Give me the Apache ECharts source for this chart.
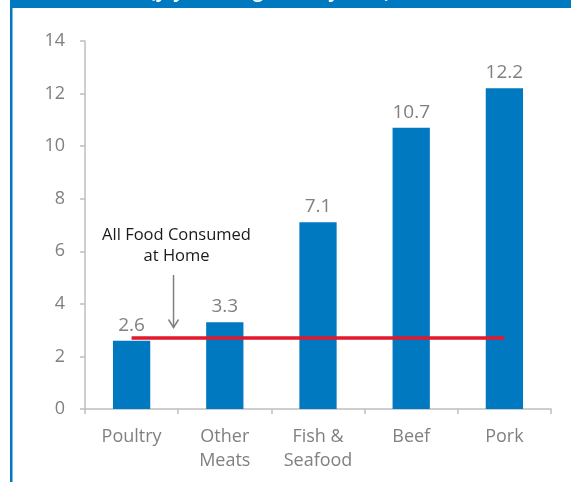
<!DOCTYPE html>
<html>
<head>
<meta charset="utf-8">
<script src="https://cdn.jsdelivr.net/npm/echarts@6/dist/echarts.min.js"></script>
<style>
  html, body { margin: 0; padding: 0; background: #fff; }
  #main { width: 571px; height: 482px; }
</style>
</head>
<body>
<div id="main"></div>
<script>
// 数据
const categories = ['Poultry', 'Other\nMeats', 'Fish &\nSeafood', 'Beef', 'Pork'];
const priceChange = [2.6, 3.3, 7.1, 10.7, 12.2];
const allFoodAtHome = [2.7, 2.7, 2.7, 2.7, 2.7];
const yTicks = [0, 14, 2]; // min, max, interval

const BLUE = '#0079C1';
const GREY = '#808080';
const FONT = '"Open Sans", sans-serif';

const chart = echarts.init(document.getElementById('main'), null, { renderer: 'canvas' });

chart.setOption({
  animation: false,
  backgroundColor: '#fff',
  grid: { left: 85, right: 20, top: 41, bottom: 73 },
  xAxis: {
    type: 'category',
    data: categories,
    axisLine: { lineStyle: { color: '#bfbfbf', width: 1.5 } },
    axisTick: { show: true, length: 5, alignWithLabel: false, lineStyle: { color: '#bfbfbf', width: 1.5 } },
    axisLabel: { color: GREY, fontFamily: FONT, fontSize: 18, lineHeight: 24, margin: 16 }
  },
  yAxis: {
    type: 'value',
    min: yTicks[0],
    max: yTicks[1],
    interval: yTicks[2],
    splitLine: { show: false },
    axisLine: { show: true, lineStyle: { color: '#bfbfbf', width: 1.5 } },
    axisTick: { show: true, length: 5, lineStyle: { color: '#bfbfbf', width: 1.5 } },
    axisLabel: { color: GREY, fontFamily: FONT, fontSize: 18, margin: 20 }
  },
  series: [
    {
      type: 'bar',
      data: priceChange,
      barWidth: '40%',
      itemStyle: { color: BLUE },
      label: {
        show: true,
        position: 'top',
        distance: 6,
        color: GREY,
        fontFamily: FONT,
        fontSize: 19
      }
    },
    {
      type: 'line',
      data: allFoodAtHome,
      symbol: 'none',
      z: 5,
      lineStyle: { color: '#E2192C', width: 3.5 }
    }
  ]
});

// 注释和边框
const p0 = chart.convertToPixel({ xAxisIndex: 0, yAxisIndex: 0 }, [0, 5.1]);
const p1 = chart.convertToPixel({ xAxisIndex: 0, yAxisIndex: 0 }, [1, 3.1]);
const arrowX = p0[0] + (p1[0] - p0[0]) * 0.45;
const textY = chart.convertToPixel({ yAxisIndex: 0 }, 6.2);

chart.setOption({
  graphic: [
    { type: 'rect', shape: { x: 10, y: 0, width: 561, height: 8 }, style: { fill: BLUE }, z: 10 },
    { type: 'rect', shape: { x: 10, y: 0, width: 2.5, height: 482 }, style: { fill: BLUE }, z: 10 },
    {
      type: 'text', x: 270, y: 2, z: 11,
      style: {
        text: '(y/y % change in May 2022)',
        fill: '#fff', font: 'bold 18px ' + FONT,
        align: 'center', verticalAlign: 'bottom'
      }
    },
    {
      type: 'text', x: arrowX + 3, y: textY, z: 11,
      style: {
        text: 'All Food Consumed\nat Home',
        fill: '#1a1a1a', font: '16.5px ' + FONT, lineHeight: 21,
        align: 'center', verticalAlign: 'middle'
      }
    },
    {
      type: 'polyline', z: 11,
      shape: { points: [[arrowX, p0[1]], [arrowX, p1[1]]] },
      style: { stroke: GREY, lineWidth: 1.5, fill: null }
    },
    {
      type: 'polyline', z: 11,
      shape: { points: [[arrowX - 5, p1[1] - 8], [arrowX, p1[1]], [arrowX + 5, p1[1] - 8]] },
      style: { stroke: GREY, lineWidth: 1.5, fill: null }
    }
  ]
});
</script>
</body>
</html>
